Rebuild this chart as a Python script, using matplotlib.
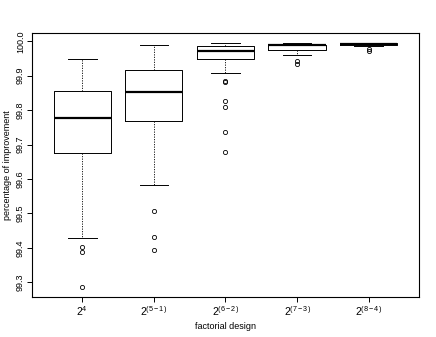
import numpy as np
import matplotlib
matplotlib.use("Agg")
import matplotlib.pyplot as plt

plt.rcParams['font.family'] = ['Liberation Sans', 'DejaVu Sans']
plt.rcParams['mathtext.fontset'] = 'custom'
plt.rcParams['mathtext.rm'] = 'Liberation Sans'
plt.rcParams['mathtext.it'] = 'Liberation Sans'

# factorial designs and the box statistics
designs = [r'$2^{4}$', r'$2^{(5-1)}$', r'$2^{(6-2)}$', r'$2^{(7-3)}$', r'$2^{(8-4)}$']
whisk_lo = [99.428, 99.583, 99.909, 99.959, 99.985]
q1 = [99.676, 99.767, 99.948, 99.976, 99.989]
medians = [99.777, 99.852, 99.972, 99.988, 99.992]
q3 = [99.856, 99.917, 99.985, 99.990, 99.994]
whisk_hi = [99.948, 99.988, 99.996, 99.996, 99.996]
outliers = [
    [99.402, 99.387, 99.286],
    [99.506, 99.431, 99.393],
    [99.885, 99.882, 99.826, 99.809, 99.735, 99.678],
    [99.943, 99.933],
    [99.979, 99.972],
]

stats = []
for i in range(len(designs)):
    stats.append({'whislo': whisk_lo[i], 'q1': q1[i], 'med': medians[i],
                  'q3': q3[i], 'whishi': whisk_hi[i], 'fliers': outliers[i]})

fig = plt.figure(figsize=(4.36, 3.37), dpi=100)
ax = fig.add_axes([0.0734, 0.1187, 0.8876, 0.7833])

ax.bxp(stats, positions=range(1, 6), widths=0.8,
       boxprops=dict(color='black', linewidth=0.7),
       medianprops=dict(color='black', linewidth=1.6),
       whiskerprops=dict(color='black', linewidth=0.6, linestyle=(0, (1.5, 1.5))),
       capprops=dict(color='black', linewidth=0.7),
       flierprops=dict(marker='o', markerfacecolor='none', markeredgecolor='black',
                       markersize=3, markeredgewidth=0.6),
       capwidths=0.4)

ax.set_xlim(0.3, 5.7)
ax.set_ylim(99.257, 100.024)
ax.set_yticks(np.arange(99.3, 100.01, 0.1))
ax.set_yticklabels(['%.1f' % v for v in np.arange(99.3, 100.01, 0.1)],
                   rotation=90, va='center', fontsize=6.5)
ax.set_xticks(range(1, 6))
ax.set_xticklabels(designs, fontsize=7.5)
ax.tick_params(direction='out', length=3.5, width=0.7, pad=1.5)
for s in ax.spines.values():
    s.set_linewidth(0.8)

ax.set_xlabel('factorial design', fontsize=6.5)
ax.set_ylabel('percentage of improvement', fontsize=6.5)
ax.xaxis.set_label_coords(0.5, -0.095)
ax.yaxis.set_label_coords(-0.052, 0.5)

plt.savefig('out.png', dpi=100)
